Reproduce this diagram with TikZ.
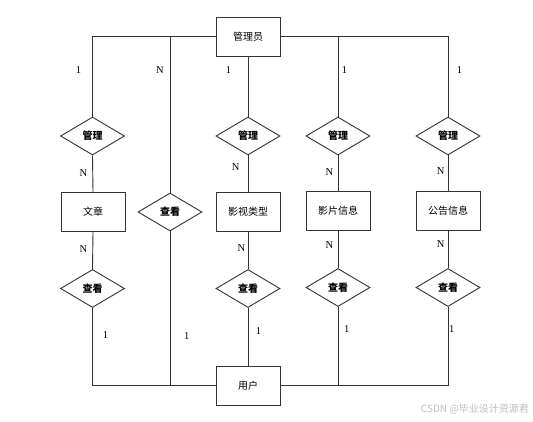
\documentclass[tikz,border=0pt]{standalone}
\usepackage{fontspec}
\setmainfont{Liberation Serif}
\newfontfamily\cjk{Noto Sans CJK SC}
\usetikzlibrary{shapes.geometric}
\tikzset{
  ent/.style={draw=black!80, line width=0.9pt, rectangle, minimum width=64pt, minimum height=39pt, inner sep=0pt, font=\cjk\fontsize{10}{12}\selectfont},
  rel/.style={draw=black!80, line width=0.9pt, diamond, minimum width=64pt, minimum height=38pt, inner sep=0pt, font=\cjk\bfseries\fontsize{10}{12}\selectfont},
  card/.style={inner sep=0pt, font=\fontsize{10.5}{12}\selectfont},
  conn/.style={draw=black!80, line width=0.9pt},
}
\begin{document}
\begin{tikzpicture}[x=1pt, y=-1pt]
\useasboundingbox (0,0) rectangle (533,421);
\fill[white] (0,0) rectangle (533,421);
% entities
\node[ent] (admin) at (248,36.5) {管理员};
\node[ent] (e1) at (93,212) {文章};
\node[ent] (e2) at (248,212) {影视类型};
\node[ent] (e3) at (338,211) {影片信息};
\node[ent] (e4) at (448,211) {公告信息};
\node[ent] (user) at (248,385.7) {用户};
% relationships
\node[rel] (m1) at (92.5,136) {管理};
\node[rel] (m2) at (248,136) {管理};
\node[rel] (m3) at (338,136) {管理};
\node[rel] (m4) at (448,136) {管理};
\node[rel] (v0) at (170,212) {查看};
\node[rel] (v1) at (92.5,288.5) {查看};
\node[rel] (v2) at (248,288.5) {查看};
\node[rel] (v3) at (338,287.5) {查看};
\node[rel] (v4) at (448,287.5) {查看};
% connectors
\draw[conn] (admin.west) -| (m1.north);
\draw[conn] (v0.north) -- (v0.north |- admin.west);
\draw[conn] (admin.south) -- (m2.north);
\draw[conn] (admin.east) -| (m4.north);
\draw[conn] (m3.north) -- (m3.north |- admin.east);
\draw[conn] (m1.south) -- (e1.north);
\draw[conn] (m2.south) -- (e2.north);
\draw[conn] (m3.south) -- (e3.north);
\draw[conn] (m4.south) -- (e4.north);
\draw[conn] (e1.south) -- (v1.north);
\draw[conn] (e2.south) -- (v2.north);
\draw[conn] (e3.south) -- (v3.north);
\draw[conn] (e4.south) -- (v4.north);
\draw[conn] (v1.south) |- (user.west);
\draw[conn] (v0.south) -- (v0.south |- user.west);
\draw[conn] (v2.south) -- (user.north);
\draw[conn] (v4.south) |- (user.east);
\draw[conn] (v3.south) -- (v3.south |- user.east);
% cardinalities
\node[card] (c1) at (78.5,70) {1};
\node[card] (c2) at (160,70) {N};
\node[card] (c3) at (228.5,70) {1};
\node[card] (c4) at (344.5,70) {1};
\node[card] (c5) at (459.5,70) {1};
\node[card] (c6) at (83.5,173) {N};
\node[card] (c7) at (235.7,167) {N};
\node[card] (c8) at (329.5,172) {N};
\node[card] (c9) at (440.7,171.5) {N};
\node[card] (c10) at (83.5,249) {N};
\node[card] (c11) at (241.3,248.3) {N};
\node[card] (c12) at (329.5,245) {N};
\node[card] (c13) at (440.7,244) {N};
\node[card] (c14) at (105.5,335) {1};
\node[card] (c15) at (186.7,336) {1};
\node[card] (c16) at (258.5,331) {1};
\node[card] (c17) at (346.7,329.5) {1};
\node[card] (c18) at (451.7,329.5) {1};
% watermark
\node[anchor=east, inner sep=0pt, text=black!25, font=\cjk\fontsize{10}{12}\selectfont] (wm) at (529,409.5) {CSDN @毕业设计资源君};
\end{tikzpicture}
\end{document}
